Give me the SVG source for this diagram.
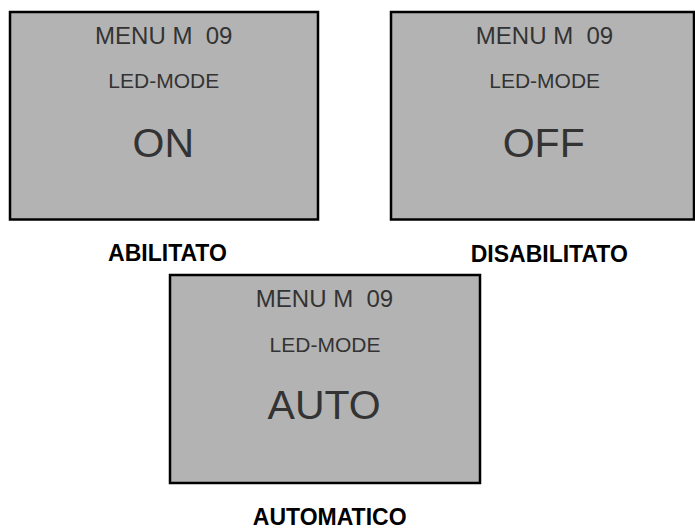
<svg xmlns="http://www.w3.org/2000/svg" width="695" height="529" viewBox="0 0 695 529">
<style>
.box{fill:#b3b3b3;stroke:#000;stroke-width:2.5}
.t{font-family:"Liberation Sans",Arial,sans-serif;fill:#333;text-anchor:middle}
.m{font-size:24px}
.l{font-size:21px}
.v{font-size:41px}
.lab{font-family:"Liberation Sans",Arial,sans-serif;font-weight:bold;font-size:23px;fill:#000;text-anchor:middle}
</style>
<rect width="695" height="529" fill="#fff"/>
<g id="node-on">
<rect class="box" x="10" y="12" width="308" height="207.5"/>
<text class="t m" x="163.8" y="44" xml:space="preserve">MENU M  09</text>
<text class="t l" x="163.8" y="88">LED-MODE</text>
<text class="t v" x="163.3" y="157">ON</text>
</g>
<g id="node-off">
<rect class="box" x="391" y="12" width="303" height="207.5"/>
<text class="t m" x="544.5" y="44" xml:space="preserve">MENU M  09</text>
<text class="t l" x="544.7" y="88">LED-MODE</text>
<text class="t v" x="543.7" y="157">OFF</text>
</g>
<g id="node-auto">
<rect class="box" x="170" y="275" width="310" height="208"/>
<text class="t m" x="324.5" y="307.3" xml:space="preserve">MENU M  09</text>
<text class="t l" x="325" y="351.7">LED-MODE</text>
<text class="t v" x="324.2" y="419.3">AUTO</text>
</g>
<g id="labels">
<text class="lab" x="167.5" y="261">ABILITATO</text>
<text class="lab" x="549.3" y="261.5">DISABILITATO</text>
<text class="lab" x="329.7" y="524.5">AUTOMATICO</text>
</g>
<g id="connectors"></g>
</svg>
